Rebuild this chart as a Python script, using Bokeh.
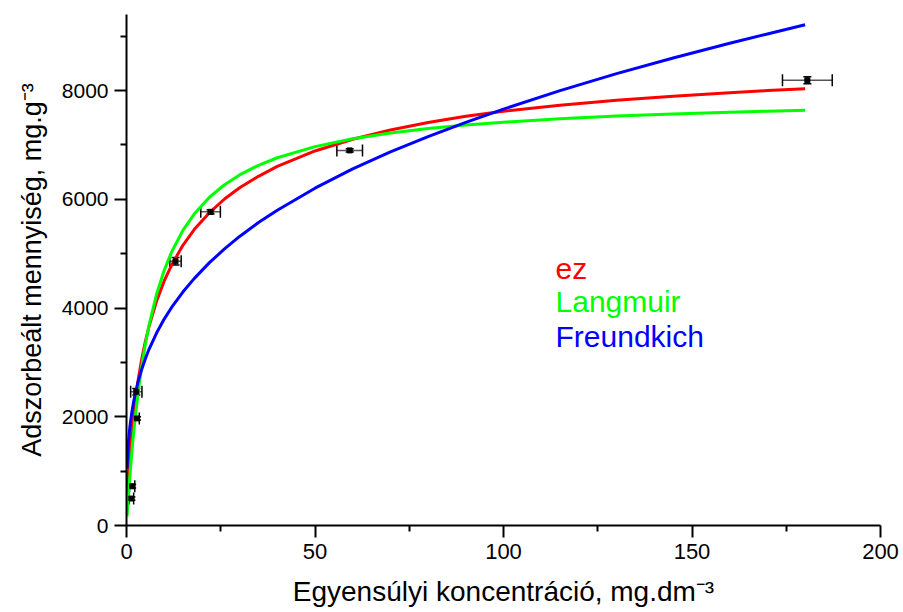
from bokeh.plotting import figure
from bokeh.models import FixedTicker, Whisker, TeeHead, ColumnDataSource, Range1d
from bokeh.core.properties import value
from bokeh.embed import file_html
from bokeh.resources import INLINE

# ---- data ----
conc = [0.15, 0.2, 0.3, 0.5, 0.75, 1, 1.5, 2, 3, 4, 5, 6, 8, 10, 12, 15, 18, 22, 26, 30,
        35, 40, 50, 60, 70, 80, 90, 100, 115, 130, 145, 160, 170, 180]
ez = [400, 489, 645, 907, 1179, 1412, 1801, 2122, 2639, 3046, 3383, 3668, 4132, 4498, 4796,
      5159, 5448, 5755, 6006, 6212, 6423, 6605, 6890, 7105, 7275, 7415, 7528, 7622, 7732,
      7822, 7897, 7962, 8000, 8036]
langmuir = [169, 224, 331, 536, 778, 1004, 1417, 1783, 2404, 2911, 3333, 3690, 4259, 4694,
            5036, 5433, 5734, 6038, 6268, 6449, 6626, 6765, 6970, 7113, 7220, 7302, 7367,
            7419, 7482, 7531, 7571, 7603, 7622, 7638]
freundlich = [1048, 1144, 1296, 1515, 1716, 1874, 2122, 2318, 2625, 2866, 3069, 3246, 3545,
              3797, 4015, 4299, 4546, 4835, 5088, 5317, 5574, 5800, 6205, 6560, 6872, 7155,
              7415, 7660, 8000, 8312, 8600, 8872, 9042, 9210]

pt_x = [1.3, 1.5, 2.8, 2.6, 13.0, 22.3, 59.2, 180.6]
pt_y = [496, 722, 1970, 2460, 4860, 5770, 6900, 8190]
pt_xerr = [0.6, 0.7, 0.6, 1.5, 1.5, 2.6, 3.4, 6.6]
pt_yerr = [30, 30, 30, 60, 70, 40, 30, 65]

series_names = ["ez", "Langmuir", "Freundkich"]
series_colors = ["#ff0000", "#00ff00", "#0000ff"]

x_ticks = [0, 50, 100, 150, 200]
x_minor = [25, 75, 125, 175]
y_ticks = [0, 2000, 4000, 6000, 8000]
y_minor = [1000, 3000, 5000, 7000, 9000]

x_title = "Egyensúlyi koncentráció, mg.dm\u207b\u00b3"
y_title = "Adszorbeált mennyiség, mg.g\u207b\u00b3"

FONT = "Liberation Sans"

p = figure(width=903, height=612, output_backend="svg", toolbar_location=None,
           x_range=Range1d(0, 200), y_range=Range1d(0, 9400),
           min_border_left=126, min_border_right=23, min_border_top=14, min_border_bottom=87)
p.outline_line_color = None
p.xgrid.visible = False
p.ygrid.visible = False
p.background_fill_color = "white"
p.border_fill_color = "white"

for ax, t, m in ((p.xaxis, x_ticks, x_minor), (p.yaxis, y_ticks, y_minor)):
    ax.ticker = FixedTicker(ticks=t, minor_ticks=m)
    ax.axis_line_width = 2
    ax.axis_line_color = "black"
    ax.major_tick_line_width = 2
    ax.minor_tick_line_width = 2
    ax.major_tick_line_color = "black"
    ax.minor_tick_line_color = "black"
    ax.major_tick_out = 12
    ax.major_tick_in = 0
    ax.minor_tick_out = 6
    ax.minor_tick_in = 0
    ax.major_label_text_color = "black"
    ax.axis_label_text_font = FONT
    ax.axis_label_text_font_style = "normal"
    ax.axis_label_text_color = "black"

p.xaxis.major_label_text_font = FONT
p.xaxis.major_label_text_font_size = "22px"
p.xaxis.major_label_standoff = 6
p.yaxis.major_label_text_font = FONT
p.yaxis.major_label_text_font_size = "21px"
p.yaxis.major_label_standoff = 6

p.xaxis.axis_label = x_title
p.xaxis.axis_label_text_font_size = "28px"
p.xaxis.axis_label_standoff = 14
p.yaxis.axis_label = y_title
p.yaxis.axis_label_text_font_size = "27px"
p.yaxis.axis_label_standoff = 12

# curves
for ys, col in zip([ez, langmuir, freundlich], series_colors):
    p.line(conc, ys, line_color=col, line_width=3)

# data points with error bars
xl = [x - e for x, e in zip(pt_x, pt_xerr)]
xu = [x + e for x, e in zip(pt_x, pt_xerr)]
yl = [y - e for y, e in zip(pt_y, pt_yerr)]
yu = [y + e for y, e in zip(pt_y, pt_yerr)]
src = ColumnDataSource(dict(x=pt_x, y=pt_y, xl=xl, xu=xu, yl=yl, yu=yu))
p.add_layout(Whisker(source=src, base="y", lower="xl", upper="xu", dimension="width",
                     line_color="#555555", line_width=1.5,
                     lower_head=TeeHead(size=12, line_color="black", line_width=1.5),
                     upper_head=TeeHead(size=12, line_color="black", line_width=1.5)))
p.add_layout(Whisker(source=src, base="x", lower="yl", upper="yu", dimension="height",
                     line_color="black", line_width=1.5,
                     lower_head=TeeHead(size=8, line_color="black", line_width=1.5),
                     upper_head=TeeHead(size=8, line_color="black", line_width=1.5)))
p.scatter("x", "y", source=src, marker="square", size=5, fill_color="black", line_color="black")

# legend texts
p.text(x=[113.8, 113.8, 113.8], y=[4728, 4121, 3477], text=series_names,
       text_color=series_colors, text_font=value(FONT), text_font_size="30px",
       text_baseline="middle", text_align="left")

open("out.html", "w").write(file_html(p, INLINE))
